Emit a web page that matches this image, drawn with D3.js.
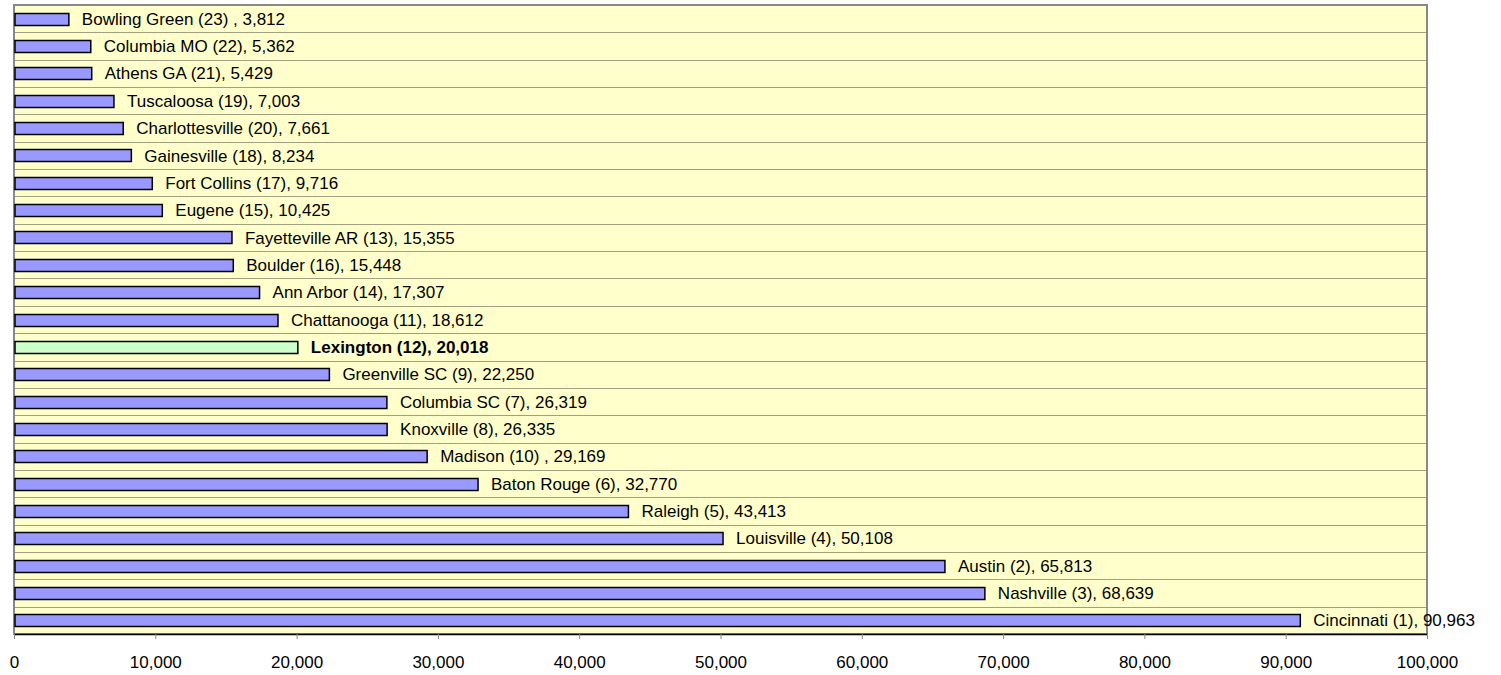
<!DOCTYPE html>
<html>
<head>
<meta charset="utf-8">
<script src="https://cdn.jsdelivr.net/npm/d3@7"></script>
<style>
  body { margin: 0; background: #fff; }
  text { font-family: Arial, "Liberation Sans", sans-serif; }
</style>
</head>
<body>
<svg width="1501" height="675"></svg>
<script>
// Data, top to bottom as shown
const cities = ["Bowling Green (23) ", "Columbia MO (22)", "Athens GA (21)", "Tuscaloosa (19)",
    "Charlottesville (20)", "Gainesville (18)", "Fort Collins (17)", "Eugene (15)",
    "Fayetteville AR (13)", "Boulder (16)", "Ann Arbor (14)", "Chattanooga (11)",
    "Lexington (12)", "Greenville SC (9)", "Columbia SC (7)", "Knoxville (8)",
    "Madison (10) ", "Baton Rouge (6)", "Raleigh (5)", "Louisville (4)",
    "Austin (2)", "Nashville (3)", "Cincinnati (1)"];
const values = [3812, 5362, 5429, 7003, 7661, 8234, 9716, 10425, 15355, 15448, 17307, 18612,
    20018, 22250, 26319, 26335, 29169, 32770, 43413, 50108, 65813, 68639, 90963];
const highlight = "Lexington (12)";
const xTicks = [0, 10000, 20000, 30000, 40000, 50000, 60000, 70000, 80000, 90000, 100000];

const data = cities.map((c, i) => ({ city: c, value: values[i] }));

const margin = { top: 5, right: 74, bottom: 41, left: 14 },
    width = 1501 - margin.left - margin.right,
    height = 675 - margin.top - margin.bottom;

const svg = d3.select("svg")
    .append("g")
    .attr("transform", `translate(${margin.left},${margin.top})`);

const x = d3.scaleLinear().domain([0, 100000]).range([0, width]);
const y = d3.scaleBand().domain(cities).range([0, height]);

// Plot background
svg.append("rect")
    .attr("width", width)
    .attr("height", height)
    .attr("fill", "#FFFFCC");

// Horizontal gridlines at category boundaries
svg.append("g")
    .selectAll("line")
    .data(cities.slice(1))
    .join("line")
    .attr("x1", 0)
    .attr("x2", width)
    .attr("y1", d => Math.round(y(d)) + 0.5)
    .attr("y2", d => Math.round(y(d)) + 0.5)
    .attr("stroke", "#A0A080")
    .attr("stroke-width", 1);

// Plot border
svg.append("rect")
    .attr("width", width)
    .attr("height", height)
    .attr("fill", "none")
    .attr("stroke", "#888")
    .attr("stroke-width", 2);

// Bars
const barH = 12;
svg.append("g")
    .selectAll("rect")
    .data(data)
    .join("rect")
    .attr("x", x(0) + 1)
    .attr("y", d => Math.round(y(d.city) + y.bandwidth() / 2 - barH / 2) + 0.5)
    .attr("width", d => x(d.value) - x(0))
    .attr("height", barH)
    .attr("fill", d => d.city === highlight ? "#CCFFCC" : "#9999FF")
    .attr("stroke", "#000")
    .attr("stroke-width", 1.5);

// Labels
svg.append("g")
    .selectAll("text")
    .data(data)
    .join("text")
    .attr("x", d => x(d.value) + 14)
    .attr("y", d => y(d.city) + y.bandwidth() / 2)
    .attr("dy", "0.36em")
    .style("font-size", "17px")
    .style("font-weight", d => d.city === highlight ? "bold" : "normal")
    .attr("fill", "#000")
    .text(d => `${d.city}, ${d3.format(",")(d.value)}`);

// X axis
const xAxis = svg.append("g")
    .attr("transform", `translate(0,${height})`)
    .call(d3.axisBottom(x).tickValues(xTicks).tickFormat(d3.format(",")).tickSize(5).tickSizeOuter(0));
xAxis.select(".domain").attr("stroke", "#000").attr("stroke-width", 1.5);
xAxis.selectAll(".tick line").attr("stroke", "#888");
xAxis.selectAll(".tick text")
    .attr("y", 22)
    .attr("fill", "#000")
    .style("font-size", "17px")
    .style("font-family", "Arial, 'Liberation Sans', sans-serif");
</script>
</body>
</html>
